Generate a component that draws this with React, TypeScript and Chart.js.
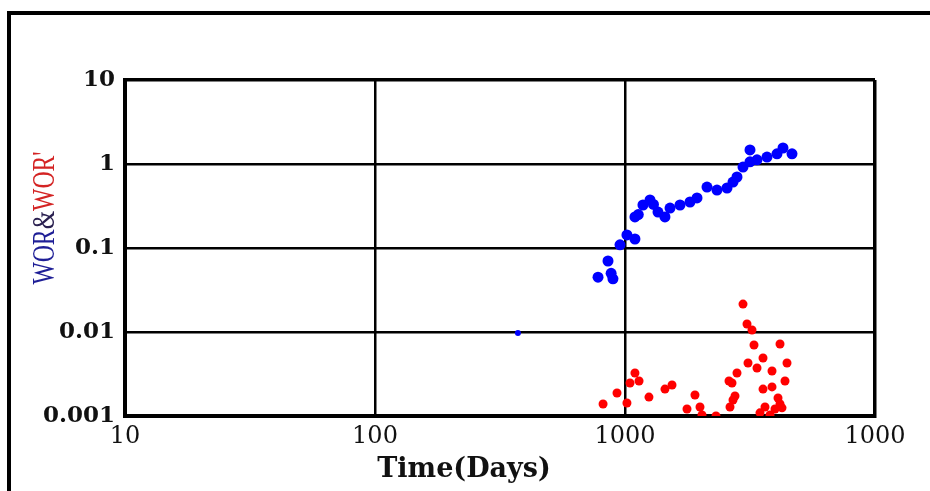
import { useEffect, useRef } from "react";
import { Chart, registerables } from "chart.js";

Chart.register(...registerables);

// WOR (blue) readings
const worDays = [373, 780, 855, 880, 895, 955, 1018, 1096, 1096, 1130, 1180, 1259, 1300, 1355, 1445, 1514, 1660, 1820, 1941, 2128, 2333, 2559, 2704, 2805, 2965, 3162, 3162, 3373, 3698, 4055, 4285, 4656];
const worValues = [0.0097, 0.045, 0.07, 0.05, 0.043, 0.109, 0.143, 0.128, 0.234, 0.25, 0.325, 0.373, 0.33, 0.268, 0.234, 0.299, 0.325, 0.353, 0.394, 0.532, 0.49, 0.518, 0.61, 0.7, 0.92, 1.06, 1.47, 1.12, 1.21, 1.32, 1.55, 1.32];

// WOR' (red) readings
const worPrimeDays = [817, 929, 1018, 1047, 1096, 1138, 1247, 1445, 1542, 1770, 1905, 1995, 2032, 2312, 2606, 2679, 2805, 2754, 2704, 2630, 2965, 3076, 3221, 3281, 4169, 3565, 3105, 3373, 3873, 4446, 4365, 3565, 3873, 4093, 4169, 3631, 3981, 3467, 3802, 4246];
const worPrimeValues = [0.00139, 0.00188, 0.00143, 0.00247, 0.00325, 0.00261, 0.00168, 0.00209, 0.00234, 0.00121, 0.00178, 0.00128, 0.00103, 0.001, 0.00261, 0.00247, 0.00325, 0.00173, 0.00155, 0.00128, 0.0215, 0.01245, 0.01057, 0.007, 0.0072, 0.0049, 0.00428, 0.00373, 0.00343, 0.00428, 0.00261, 0.00209, 0.00222, 0.00164, 0.00139, 0.00128, 0.00121, 0.00109, 0.00103, 0.00125];

const xTickValues = [10, 100, 1000, 10000];
const xTickLabels = ["10", "100", "1000", "1000"];
const yTickValues = [0.001, 0.01, 0.1, 1, 10];
const yTickLabels = ["0.001", "0.01", "0.1", "1", "10"];
const xAxisTitle = "Time(Days)";
const yTitleParts = ["WOR", "&", "WOR'"];

export default function App() {
  const ref = useRef<HTMLCanvasElement>(null);

  useEffect(() => {
    const canvas = ref.current;
    if (!canvas) return;
    const chart = new Chart(canvas, {
      type: "scatter",
      data: {
        datasets: [
          {
            label: "WOR",
            data: worDays.map((d, i) => ({ x: d, y: worValues[i] })),
            backgroundColor: "#0000ff",
            borderColor: "#0000ff",
            borderWidth: 0,
            pointRadius: (c: any) => (c.dataIndex === 0 ? 3 : 5.5),
          },
          {
            label: "WOR'",
            data: worPrimeDays.map((d, i) => ({ x: d, y: worPrimeValues[i] })),
            backgroundColor: "#ff0000",
            borderColor: "#ff0000",
            borderWidth: 0,
            pointRadius: 4.5,
          },
        ],
      },
      options: {
        responsive: false,
        animation: false,
        devicePixelRatio: 1,
        events: [],
        layout: { padding: { left: 0, top: 80, right: 55, bottom: 0 } },
        plugins: { legend: { display: false }, tooltip: { enabled: false } },
        scales: {
          x: {
            type: "logarithmic",
            position: "bottom",
            min: 10,
            max: 10000,
            afterBuildTicks: (s: any) => {
              s.ticks = xTickValues.map((v) => ({ value: v }));
            },
            afterFit: (s: any) => {
              s.height = 75;
            },
            ticks: {
              autoSkip: false,
              maxRotation: 0,
              padding: 6,
              color: "#111",
              font: { family: "'DejaVu Serif'", size: 24 },
              callback: (_v: any, i: number) => xTickLabels[i],
            },
            grid: {
              drawTicks: false,
              color: "#000",
              lineWidth: (c: any) =>
                c.index === 0 || c.index === xTickValues.length - 1 ? 3.5 : 2.5,
            },
            border: { color: "#000", width: 4 },
            title: { display: false },
          },
          y: {
            type: "logarithmic",
            position: "left",
            min: 0.001,
            max: 10,
            afterBuildTicks: (s: any) => {
              s.ticks = yTickValues.map((v) => ({ value: v }));
            },
            afterFit: (s: any) => {
              s.width = 125;
            },
            ticks: {
              autoSkip: false,
              padding: 10,
              color: "#111",
              font: { family: "'DejaVu Serif'", size: 23, weight: "bold" },
              callback: (_v: any, i: number) => yTickLabels[i],
            },
            grid: {
              drawTicks: false,
              color: "#000",
              lineWidth: (c: any) =>
                c.index === 0 || c.index === yTickValues.length - 1 ? 3.5 : 2.5,
            },
            border: { color: "#000", width: 4 },
            title: { display: false },
          },
        },
      },
    } as any);
    return () => chart.destroy();
  }, []);

  return (
    <div
      style={{
        position: "fixed",
        left: 0,
        top: 0,
        width: 930,
        height: 491,
        background: "#fff",
        overflow: "hidden",
      }}
    >
      <canvas ref={ref} width={930} height={491} style={{ position: "absolute", left: 0, top: 0 }} />
      <div
        style={{
          position: "absolute",
          left: 7,
          top: 11,
          width: 940,
          height: 500,
          borderTop: "4px solid #000",
          borderLeft: "4px solid #000",
          pointerEvents: "none",
        }}
      />
      <div
        style={{
          position: "absolute",
          left: 464,
          top: 467,
          transform: "translate(-50%, -50%)",
          fontFamily: "'DejaVu Serif', serif",
          fontWeight: "bold",
          fontSize: 27,
          lineHeight: 1,
          whiteSpace: "nowrap",
          color: "#111",
        }}
      >
        {xAxisTitle}
      </div>
      <div
        style={{
          position: "absolute",
          left: 43,
          top: 218,
          transform: "translate(-50%, -50%) rotate(-90deg) scaleX(0.74)",
          fontFamily: "'Liberation Serif', serif",
          fontSize: 32,
          lineHeight: 1,
          whiteSpace: "nowrap",
        }}
      >
        <span style={{ color: "#1e1e96" }}>{yTitleParts[0]}</span>
        <span style={{ color: "#2a2050" }}>{yTitleParts[1]}</span>
        <span style={{ color: "#d42424" }}>{yTitleParts[2]}</span>
      </div>
    </div>
  );
}
